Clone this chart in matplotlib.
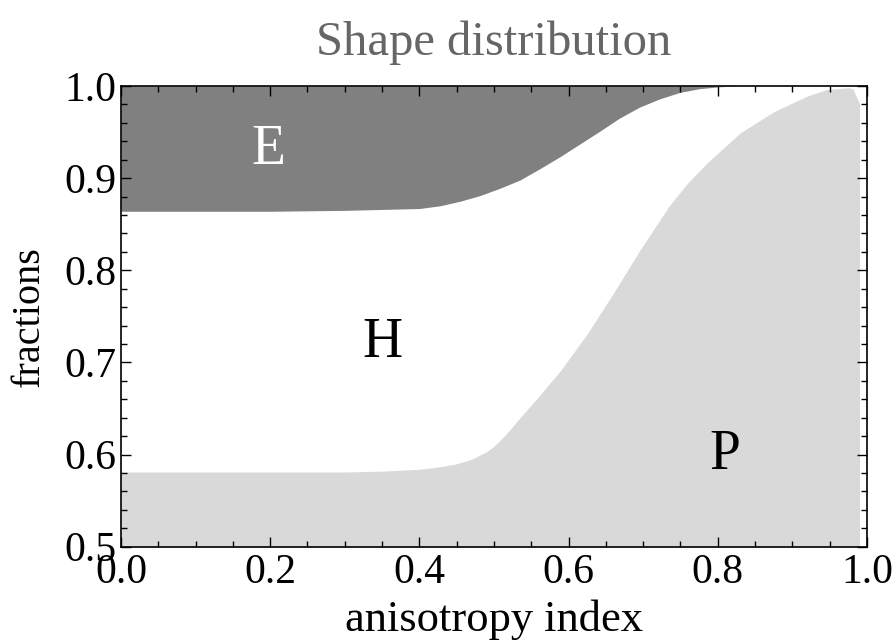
import matplotlib
matplotlib.use('Agg')
import matplotlib.pyplot as plt
from matplotlib.ticker import MultipleLocator

plt.rcParams['font.family'] = ['Liberation Serif', 'DejaVu Serif']

# lower edge of the E (dark) band
e_x = [0.0, 0.2, 0.3, 0.35, 0.4, 0.428, 0.455, 0.481, 0.508, 0.535, 0.561, 0.588,
       0.615, 0.642, 0.668, 0.695, 0.722, 0.749, 0.775, 0.8, 0.82, 1.0]
e_y = [0.864, 0.864, 0.865, 0.866, 0.867, 0.870, 0.875, 0.881, 0.889, 0.898, 0.910, 0.923,
       0.937, 0.951, 0.965, 0.977, 0.986, 0.993, 0.997, 0.999, 1.0, 1.0]

# upper edge of the P (light) band
p_x = [0.0, 0.2, 0.3, 0.35, 0.4, 0.43, 0.45, 0.47, 0.49, 0.5, 0.515, 0.535, 0.56, 0.59, 0.625,
       0.66, 0.695, 0.735, 0.76, 0.785, 0.83, 0.875, 0.92, 0.945, 0.975, 0.981, 0.99]
p_y = [0.581, 0.581, 0.581, 0.582, 0.584, 0.587, 0.590, 0.595, 0.603, 0.609, 0.621, 0.640, 0.663, 0.692, 0.731,
       0.775, 0.821, 0.870, 0.895, 0.916, 0.949, 0.972, 0.989, 0.996, 0.998, 0.997, 0.981]

labels = ['E', 'H', 'P']
label_pos = [(0.197, 0.931), (0.35, 0.721), (0.81, 0.60)]
label_col = ['white', 'black', 'black']

fig = plt.figure(figsize=(8.94, 6.43), dpi=100)
ax = fig.add_axes([0.1353, 0.1498, 0.8345, 0.7165])

ax.fill_between(e_x, e_y, 1.0, color='#808080', lw=0)
ax.fill_between(p_x, 0.5, p_y, color='#d9d9d9', lw=0)

for t, (x, y), c in zip(labels, label_pos, label_col):
    ax.text(x, y, t, color=c, fontsize=40, ha='center', va='center')

ax.set_xlim(0, 1)
ax.set_ylim(0.5, 1)
ax.xaxis.set_major_locator(MultipleLocator(0.2))
ax.xaxis.set_minor_locator(MultipleLocator(0.05))
ax.yaxis.set_major_locator(MultipleLocator(0.1))
ax.yaxis.set_minor_locator(MultipleLocator(0.02))
ax.xaxis.set_major_formatter(lambda v, p: f'{v:.1f}')
ax.yaxis.set_major_formatter(lambda v, p: f'{v:.1f}')
ax.tick_params(which='both', direction='in', top=True, right=True, width=1, labelsize=30)
ax.tick_params(which='major', length=7)
ax.tick_params(axis='x', which='major', pad=5)
ax.tick_params(axis='y', which='major', pad=3)
ax.tick_params(which='minor', length=4)
for s in ax.spines.values():
    s.set_linewidth(1.2)

ax.set_title('Shape distribution', fontsize=35, color='#666666', pad=22)
ax.set_xlabel('anisotropy index', fontsize=32, labelpad=5)
ax.set_ylabel('fractions', fontsize=29, labelpad=12)

fig.savefig('out.png', dpi=100)
